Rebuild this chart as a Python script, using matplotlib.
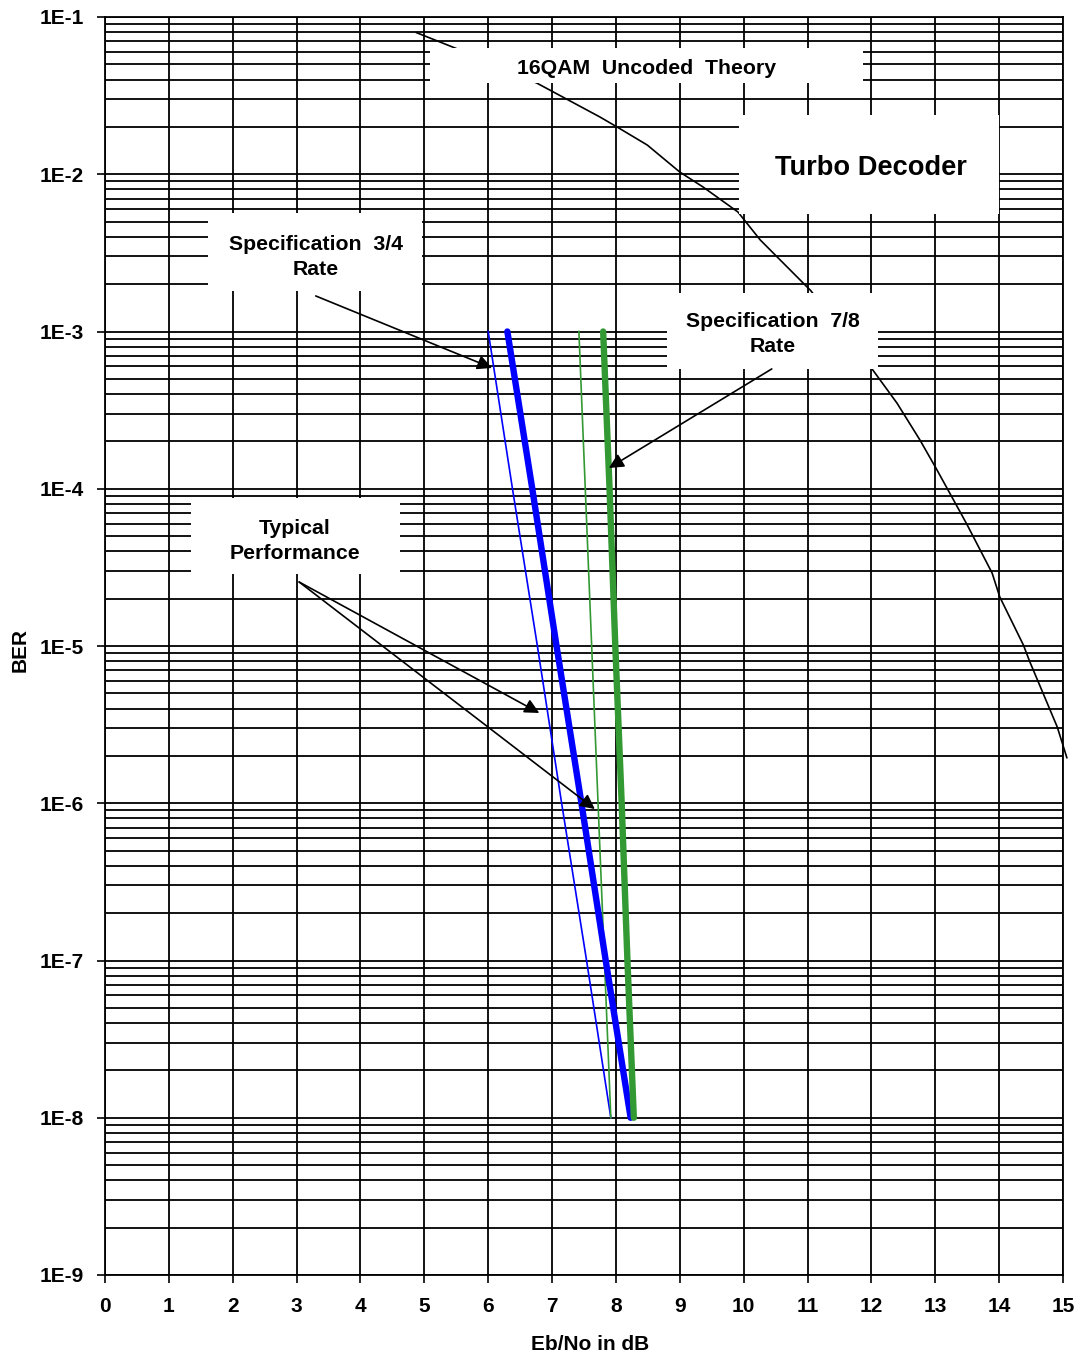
import numpy as np
import matplotlib
matplotlib.use("Agg")
import matplotlib.pyplot as plt
from matplotlib.ticker import LogLocator, FixedLocator, NullFormatter
from matplotlib.patches import Rectangle

plt.rcParams['font.family'] = ['Liberation Sans', 'DejaVu Sans']
plt.rcParams['font.weight'] = 'bold'

# ---------------- data ----------------
ber_points = [1e-3, 1e-4, 1e-5, 1e-6, 1e-7, 1e-8]
spec34_ebno = [6.00, 6.38, 6.77, 7.15, 7.54, 7.92]
typ34_ebno = [6.30, 6.69, 7.07, 7.46, 7.84, 8.23]
spec78_ebno = [7.42, 7.52, 7.62, 7.72, 7.82, 7.92]
typ78_ebno = [7.80, 7.90, 7.99, 8.09, 8.18, 8.28]

theory_ebno = [4.88, 5.48, 6.76, 7.75, 8.02, 8.49, 9.00, 9.36, 9.91, 10.26,
               11.05, 12.01, 12.40, 12.76, 13.01, 13.39, 13.50, 13.89, 14.01,
               14.38, 14.48, 14.91, 15.06]
theory_log_ber = [-1.10, -1.197, -1.42, -1.636, -1.70, -1.814, -1.986, -2.08,
                  -2.24, -2.418, -2.74, -3.238, -3.455, -3.69, -3.868, -4.148,
                  -4.23, -4.536, -4.688, -4.994, -5.10, -5.515, -5.71]

x_ticks = list(range(0, 16))
y_ticks = [1e-9, 1e-8, 1e-7, 1e-6, 1e-5, 1e-4, 1e-3, 1e-2, 1e-1]
y_tick_labels = ['1E-9', '1E-8', '1E-7', '1E-6', '1E-5', '1E-4', '1E-3', '1E-2', '1E-1']

# ---------------- figure ----------------
W, H = 1084, 1359
fig = plt.figure(figsize=(W / 100, H / 100), dpi=100)
ax = fig.add_axes([105 / W, 1 - 1275 / H, 958 / W, 1258 / H])

ax.set_xscale('linear')
ax.set_yscale('log')
ax.set_xlim(0, 15)
ax.set_ylim(1e-9, 1e-1)

ax.xaxis.set_major_locator(FixedLocator(x_ticks))
ax.set_xticklabels([str(v) for v in x_ticks])
ax.yaxis.set_major_locator(FixedLocator(y_ticks))
ax.set_yticklabels(y_tick_labels)
ax.yaxis.set_minor_locator(LogLocator(base=10, subs=np.arange(2, 10), numticks=50))
ax.yaxis.set_minor_formatter(NullFormatter())

ax.tick_params(axis='both', which='major', direction='out', length=6, width=1.2,
               color='black', labelsize=15)
ax.tick_params(axis='y', which='major', pad=9)
ax.tick_params(axis='x', which='major', pad=10)
ax.tick_params(axis='y', which='minor', length=0)
for lab in ax.get_xticklabels() + ax.get_yticklabels():
    lab.set_fontweight('bold')

ax.set_axisbelow(True)
ax.grid(True, which='major', axis='x', color='black', lw=1.3)
ax.grid(True, which='both', axis='y', color='black', lw=1.3)
for sp in ax.spines.values():
    sp.set_color('black')
    sp.set_linewidth(1.3)

# theory curve (partially hidden behind label boxes)
ax.plot(theory_ebno, [10 ** v for v in theory_log_ber], color='black', lw=1.2,
        zorder=1.5, clip_on=False)

# performance lines
ax.plot(spec34_ebno, ber_points, color='#0000FF', lw=1.2, zorder=2.6)
ax.plot(typ34_ebno, ber_points, color='#0000FF', lw=4.6, zorder=2.7,
        solid_capstyle='round')
ax.plot(spec78_ebno, ber_points, color='#339933', lw=1.2, zorder=2.6)
ax.plot(typ78_ebno, ber_points, color='#339933', lw=4.6, zorder=2.7,
        solid_capstyle='round')


def px_box(x0, y0, x1, y1):
    fx0 = (x0 - 105) / 958
    fx1 = (x1 - 105) / 958
    fy0 = (1275 - y1) / 1258
    fy1 = (1275 - y0) / 1258
    ax.add_patch(Rectangle((fx0, fy0), fx1 - fx0, fy1 - fy0, transform=ax.transAxes,
                           facecolor='white', edgecolor='none', zorder=3,
                           clip_on=False))


def px_text(x, y, s, size=15.3):
    ax.text((x - 105) / 958, (1275 - y) / 1258, s, transform=ax.transAxes,
            ha='center', va='center', fontsize=size, fontweight='bold',
            linespacing=1.42, zorder=4)


px_box(430, 48, 863, 83)
px_text(647, 69, '16QAM  Uncoded  Theory')
px_box(739, 115, 999, 214)
px_text(871, 168, 'Turbo Decoder', size=19.6)
px_box(208, 213, 422, 291)
px_text(316, 257, 'Specification  3/4\nRate')
px_box(667, 293, 878, 369)
px_text(773, 334, 'Specification  7/8\nRate')
px_box(191, 498, 400, 574)
px_text(295, 541, 'Typical\nPerformance')

# arrows (data coordinates)
arrow_kw = dict(arrowstyle='-|>', color='black', lw=1.2, mutation_scale=22,
                shrinkA=0, shrinkB=0)
ax.annotate('', xy=(6.06, 10 ** -3.232), xytext=(3.30, 10 ** -2.774),
            arrowprops=arrow_kw, zorder=5)
ax.annotate('', xy=(7.89, 10 ** -3.868), xytext=(10.44, 10 ** -3.238),
            arrowprops=arrow_kw, zorder=5)
ax.annotate('', xy=(6.80, 10 ** -5.426), xytext=(3.04, 10 ** -4.593),
            arrowprops=arrow_kw, zorder=5)
ax.annotate('', xy=(7.67, 10 ** -6.037), xytext=(3.04, 10 ** -4.593),
            arrowprops=arrow_kw, zorder=5)

fig.text(20 / W, 1 - 650 / H, 'BER', rotation=90, ha='center', va='center',
         fontsize=15, fontweight='bold')
fig.text(590 / W, 1 - 1345 / H, 'Eb/No in dB', ha='center', va='center',
         fontsize=15, fontweight='bold')

fig.savefig('out.png', dpi=100, facecolor='white')
